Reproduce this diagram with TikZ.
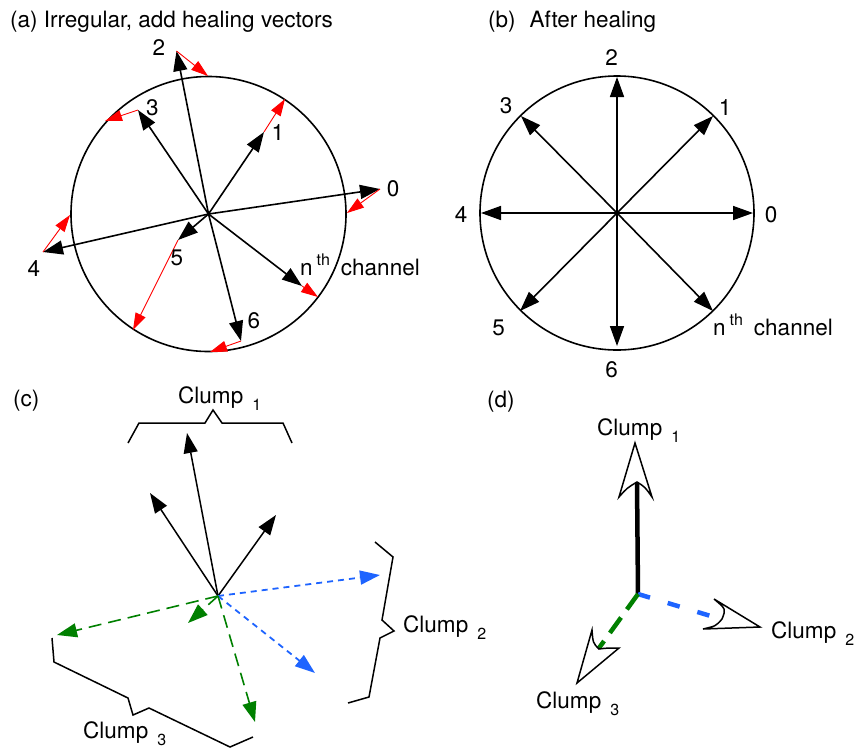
\documentclass[tikz,border=0pt]{standalone}
\usepackage{fontspec}
\setmainfont{TeX Gyre Heros}
\usetikzlibrary{arrows.meta}
\definecolor{hred}{RGB}{255,0,0}
\definecolor{cgreen}{RGB}{0,128,0}
\definecolor{cblue}{RGB}{30,100,255}
\newcommand\clsub[1]{\hspace{9pt}{\fontsize{16}{16}\selectfont\raisebox{-7pt}{#1}}}
\newcommand\thsup{\hspace{4pt}{\fontsize{16}{16}\selectfont\raisebox{10pt}{th}}\hspace{11pt}}
\begin{document}
\begin{tikzpicture}[x=1pt,y=-1pt,
  every node/.style={font=\fontsize{22.5}{26}\selectfont, inner sep=0pt},
  lbl/.style={anchor=base west},
  ring/.style={line width=1.6pt},
  vec/.style={line width=1.6pt, -{Triangle[length=20pt,width=14pt]}},
  heal/.style={draw=hred, line width=0.9pt, -{Triangle[length=17pt,width=11pt]}, hred},
  cvec/.style={line width=1.5pt, -{Triangle[length=20pt,width=14pt]}},
  bluevec/.style={cblue, line width=1.8pt, dash pattern=on 6pt off 5pt, -{Triangle[length=20pt,width=14pt]}},
  greenvec/.style={cgreen, line width=1.6pt, dash pattern=on 13pt off 7pt, -{Triangle[length=20pt,width=14pt]}},
  brace/.style={line width=1.5pt, line join=miter},
  openhead/.style={draw=black, fill=white, line width=1.5pt, line join=miter},
]
\useasboundingbox (0,0) rectangle (856,748);

% ---------------- panel (a)
\node[lbl] (ta) at (10,27) {(a) Irregular, add healing vectors};
\coordinate (A) at (208.5,214);
\draw[ring] (A) circle[radius=137.5pt];
\coordinate (A0) at (380,189);
\coordinate (A1) at (264,132);
\coordinate (A2) at (176.5,51);
\coordinate (A3) at (138,110);
\coordinate (A4) at (43,252);
\coordinate (A5) at (178,240);
\coordinate (A6) at (241,341);
\coordinate (An) at (302,286);
\coordinate (H0) at (347,213);
\coordinate (H1) at (285,99);
\coordinate (H2) at (208,76);
\coordinate (H3) at (105,121);
\coordinate (H4) at (70,215);
\coordinate (H5) at (133,330);
\coordinate (H6) at (210,352);
\coordinate (Hn) at (318,297);
\foreach \k in {0,1,2,3,4,5,6,n} {
  \draw[vec] (A) -- (A\k);
}
\draw[heal] (A0) -- (H0);
\draw[heal] (A1) -- (H1);
\draw[heal] (A2) -- (H2);
\draw[heal] (A3) -- (H3);
\draw[heal] (A4) -- (H4);
\draw[heal] (A5) -- (H5);
\draw[heal] (A6) -- (H6);
\draw[heal] (An) -- (Hn);
\node (la0) at (393,189) {0};
\node (la1) at (278,133) {1};
\node (la2) at (159,47.5) {2};
\node (la3) at (152.5,107.5) {3};
\node (la4) at (34,269) {4};
\node (la5) at (177,258) {5};
\node (la6) at (254,321) {6};
\node[lbl] (lan) at (300,275) {n\thsup channel};

% ---------------- panel (b)
\node[lbl] (tb) at (488,27) {(b)\hspace{14pt}After healing};
\coordinate (B) at (617,213);
\draw[ring] (B) circle[radius=137pt];
\coordinate (B0) at (753,213);
\coordinate (B1) at (713,116);
\coordinate (B2) at (617,77);
\coordinate (B3) at (521,116);
\coordinate (B4) at (481,213);
\coordinate (B5) at (520,311);
\coordinate (B6) at (617,346);
\coordinate (Bn) at (713,311);
\foreach \k in {0,1,2,3,4,5,6,n} {
  \draw[vec] (B) -- (B\k);
}
\node (lb0) at (771,215) {0};
\node (lb1) at (725,107.5) {1};
\node (lb2) at (611.5,57.5) {2};
\node (lb3) at (506,105.5) {3};
\node (lb4) at (461,215) {4};
\node (lb5) at (498.5,327.5) {5};
\node (lb6) at (611.5,370) {6};
\node[lbl] (lbn) at (713,335) {n\thsup channel};

% ---------------- panel (c)
\node[lbl] (tc) at (13,406) {(c)};
\coordinate (C) at (218,596);
\coordinate (C1a) at (187,433);
\coordinate (C1b) at (150,493);
\coordinate (C1c) at (276,515);
\coordinate (C2a) at (380,575);
\coordinate (C2b) at (315,673);
\coordinate (C3a) at (57,635);
\coordinate (C3b) at (188,623);
\coordinate (C3c) at (255,722);
\draw[cvec] (C) -- (C1a);
\draw[cvec] (C) -- (C1b);
\draw[cvec] (C) -- (C1c);
\draw[bluevec] (C) -- (C2a);
\draw[bluevec] (C) -- (C2b);
\draw[greenvec] (C) -- (C3a);
\draw[greenvec] (C) -- (C3b);
\draw[greenvec] (C) -- (C3c);
\draw[brace] (128,443) -- (139,423) -- (205,423) -- (213,410) -- (222,423) -- (283,423) -- (292,443);
\draw[brace] (375,542) -- (393,557) -- (382,620) -- (394,631) -- (380,638) -- (369,697) -- (348,703);
\draw[brace] (52,638) -- (54,662) -- (128,698) -- (133,715) -- (149,708) -- (230,747) -- (253,737);
\node[lbl] (lc1) at (178,403) {Clump\clsub{1}};
\node[lbl] (lc2) at (403,632) {Clump\clsub{2}};
\node[lbl] (lc3) at (83,738) {Clump\clsub{3}};

% ---------------- panel (d)
\node[lbl] (td) at (487,407) {(d)};
\coordinate (D) at (638,594);
\coordinate (D1) at (637,482);
\coordinate (D2) at (714,617);
\coordinate (D3) at (599,648);
\draw[line width=4.5pt] (D) -- (D1);
\draw[cblue, line width=4.5pt, dash pattern=on 12.5pt off 18.5pt] (D) -- (D2);
\draw[cgreen, line width=4.5pt, dash pattern=on 19pt off 10pt] (D) -- (D3);
\draw[openhead] (635,443) -- (619,497) .. controls (627,488) .. (637,482) .. controls (645,487) .. (652,497) -- cycle;
\draw[openhead] (760,627) -- (714,599) .. controls (726,609) .. (722,619) .. controls (716,626) .. (703,629) -- cycle;
\draw[openhead] (577,683) -- (592,630) .. controls (593,643) .. (599,649) .. controls (607,648) .. (619,648) -- cycle;
\node[lbl] (ld1) at (597,435) {Clump\clsub{1}};
\node[lbl] (ld2) at (771,638) {Clump\clsub{2}};
\node[lbl] (ld3) at (536,708) {Clump\clsub{3}};
\end{tikzpicture}
\end{document}
